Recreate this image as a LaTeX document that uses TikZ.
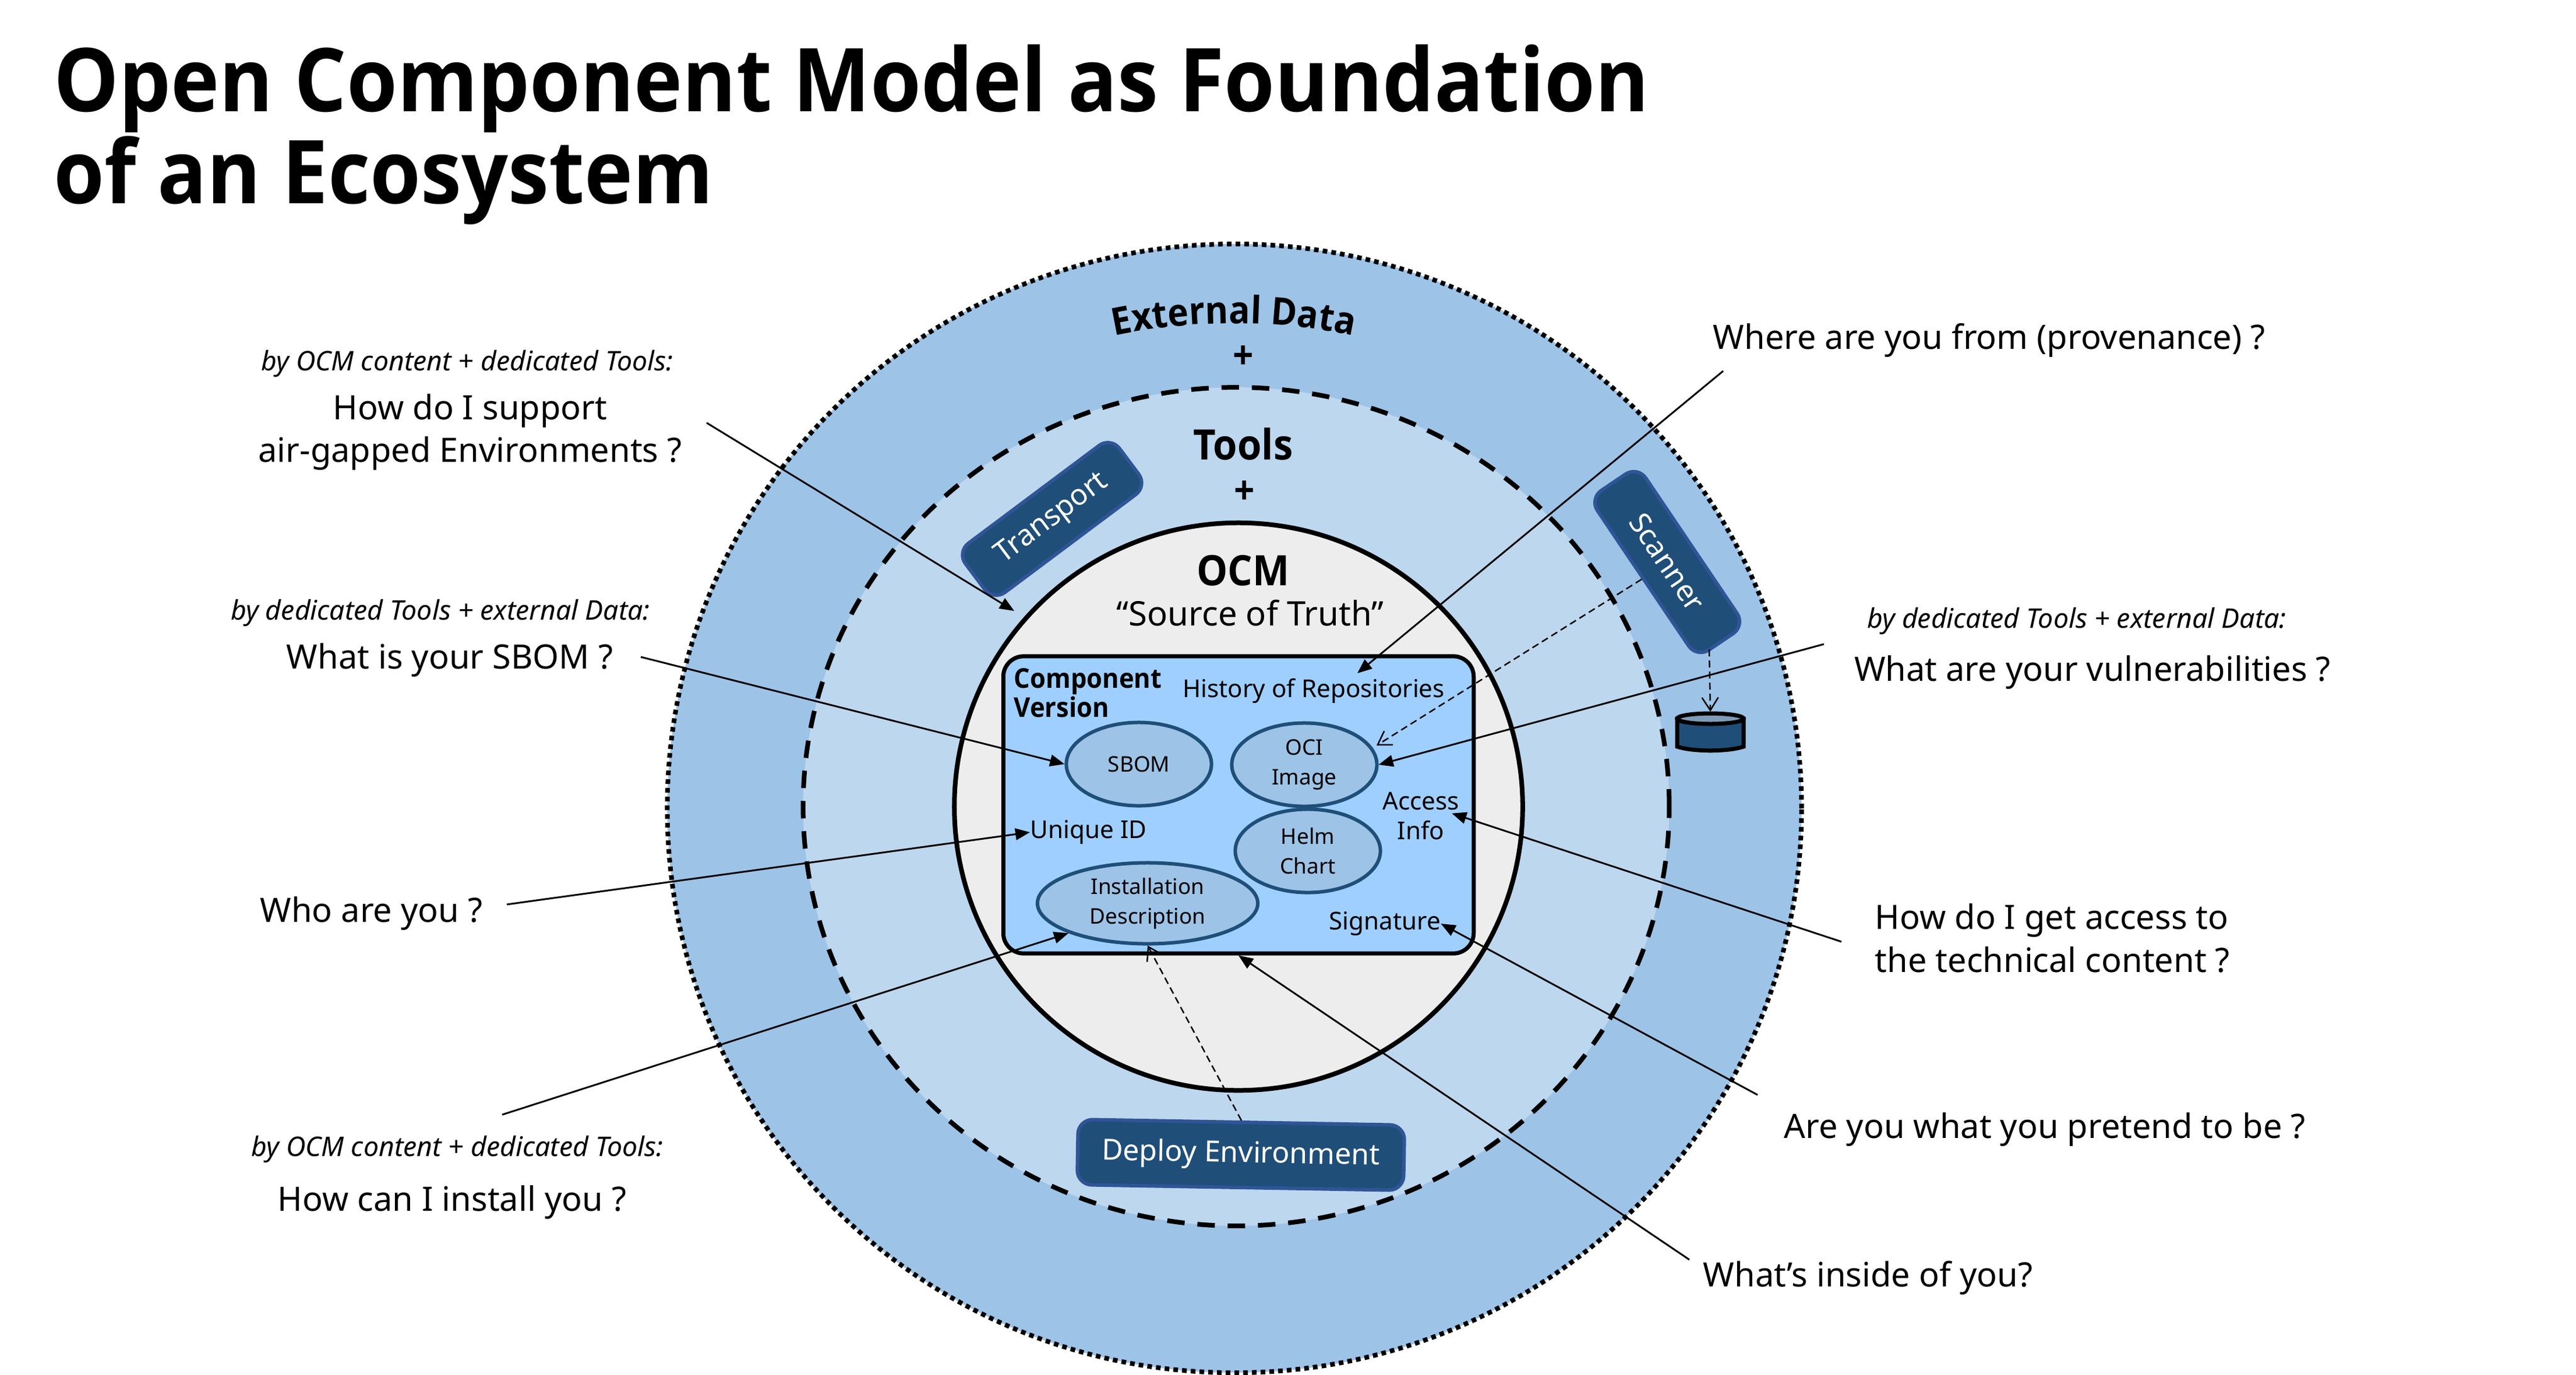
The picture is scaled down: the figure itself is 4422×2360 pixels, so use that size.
\documentclass[tikz,border=0pt]{standalone}
\usepackage{fontspec}
\setmainfont{Noto Sans}
\newfontfamily\heavyfont{Open Sans}[FakeStretch=.93]
\usetikzlibrary{arrows.meta}
\usetikzlibrary{decorations.text}
\usetikzlibrary{shapes.geometric}
\definecolor{ringouter}{HTML}{9DC3E6}
\definecolor{ringtools}{HTML}{BDD7EE}
\definecolor{ringcore}{HTML}{EDEDED}
\definecolor{boxfill}{HTML}{9FCFFF}
\definecolor{navy}{HTML}{1F4E79}
\definecolor{navyedge}{HTML}{2F5597}
\definecolor{navylight}{HTML}{7F9BB8}
\def\titlefont{\heavyfont\bfseries\fontsize{43}{44.8}\selectfont}
\def\ringfont{\heavyfont\bfseries\fontsize{18.5}{24}\selectfont}
\def\headfont{\heavyfont\bfseries\fontsize{20.5}{24}\selectfont}
\def\askfont{\fontsize{16.4}{20.8}\selectfont}
\def\notefont{\itshape\fontsize{13.2}{16}\selectfont}
\def\partfont{\fontsize{12}{14.5}\selectfont}
\tikzset{
    ring/.style = {
        ellipse, draw, inner sep=0pt
    },
    tooltag/.style = {
        draw=navyedge, fill=navy, text=white, line width=.06cm, rounded corners=.25cm, inner sep=0pt, font=\fontsize{14.2}{18}\selectfont
    },
    part/.style = {
        ellipse, draw=navy, fill=ringouter, line width=.06cm, inner sep=0pt, align=center, minimum width=2.49cm, minimum height=1.43cm, font=\fontsize{10.5}{14.5}\selectfont
    },
    ask/.style = {
        inner sep=0pt, align=center, font=\askfont
    },
    note/.style = {
        inner sep=0pt, font=\notefont
    },
    inbox/.style = {
        inner sep=0pt, align=center, font=\partfont
    },
    mark plus/.style = {
        inner sep=0pt, font=\heavyfont\bfseries\fontsize{19}{19}\selectfont
    },
    Store/.pic = {
        \draw[fill=navy, line width=.07cm] (-57,-24) -- (-57,24) .. controls (-30,33) and (30,33) .. (57,24) -- (57,-24) -- cycle;
        \draw[fill=navylight, line width=.07cm] (0,-24) ellipse [x radius=57, y radius=9];
        \coordinate (-top) at (0,-36);
    },
}
\begin{document}
\begin{tikzpicture}[x=.01cm, y=-.01cm]
        \useasboundingbox (0,0) rectangle (4422,2360);

        % Title
        \node (title) [anchor=north west, inner sep=0pt, align=left, font=\titlefont] at (92,76) {Open Component Model as Foundation\\of an Ecosystem};

        % Place the rings
        \node (outer) [ring, fill=ringouter, line width=.08cm, dash pattern=on .08cm off .07cm, minimum width=19.46cm, minimum height=19.37cm] at (2119,1388) {};
        \node (tools) [ring, fill=ringtools, line width=.08cm, dash pattern=on .3cm off .22cm, minimum width=14.86cm, minimum height=14.39cm] at (2122,1385) {};
        \node (ocm) [ring, fill=ringcore, line width=.08cm, minimum width=9.75cm, minimum height=9.74cm] at (2126,1385) {};

        % Ring headings
        \path[decorate, decoration={text along path, text align=center, text={|\ringfont|External Data}}] (1909,577) .. controls (2045,548) and (2190,548) .. (2327,577);
        \node (plusdata) [mark plus] at (2134,614) {+};
        \node (toolshead) [inner sep=0pt, font=\headfont] at (2134,762) {Tools};
        \node (plustools) [mark plus] at (2136,846) {+};
        \node (ocmhead) [inner sep=0pt, font=\headfont] at (2134,980) {OCM};
        \node (truth) [inner sep=0pt, font=\fontsize{16.5}{20}\selectfont] at (2146,1053) {“Source of Truth”};

        % Component version box
        \node (cv) [draw, fill=boxfill, line width=.07cm, rounded corners=.35cm, minimum width=8.07cm, minimum height=5.1cm, inner sep=0pt] at (2126,1382) {};
        \node (cvhead) [anchor=west, inner sep=0pt, align=left, font=\heavyfont\bfseries\fontsize{13.3}{11.8}\selectfont] at (1740,1190) {Component\\Version};
        \node (hist) [inbox] at (2255,1186) {History of Repositories};
        \node (uid) [inbox, anchor=west] at (1768,1429) {Unique ID};
        \node (access) [inbox] at (2439,1401) {Access\\Info};
        \node (sig) [inbox] at (2377,1586) {Signature};
        \foreach \nm/\cx/\cy/\lbl in {sbom/1955/1312/SBOM, oci/2239/1313/{OCI\\Image}, helm/2245/1461/{Helm\\Chart}}{
            \node (\nm) [part] at (\cx,\cy) {\lbl};
        }
        \node (install) [part, minimum width=3.78cm, minimum height=1.39cm] at (1970,1551) {Installation\\Description};

        % Tools
        \node (transport) [tooltag, rotate=36.8, minimum width=3.3cm, minimum height=1.05cm] at (1806,891) {Transport};
        \node (scanner) [tooltag, rotate=-56, minimum width=3.3cm, minimum height=1cm] at (2862,965) {Scanner};
        \node (deploy) [tooltag, rotate=-1, minimum width=5.6cm, minimum height=1.12cm] at (2130,1983) {Deploy Environment};
        \pic (db) at (2936,1258) {Store};

        % Questions
        \node (q1note) [note] at (802,624) {by OCM content + dedicated Tools:};
        \node (q1) [ask] at (807,742) {How do I support\\air-gapped Environments ?};
        \node (q2note) [note] at (756,1052) {by dedicated Tools + external Data:};
        \node (q2) [ask] at (772,1133) {What is your SBOM ?};
        \node (q3) [ask, anchor=west] at (446,1568) {Who are you ?};
        \node (q4note) [note] at (785,1973) {by OCM content + dedicated Tools:};
        \node (q4) [ask] at (776,2064) {How can I install you ?};
        \node (q5) [ask, anchor=west] at (2940,584) {Where are you from (provenance) ?};
        \node (q6note) [note] at (3565,1066) {by dedicated Tools + external Data:};
        \node (q6) [ask] at (3592,1154) {What are your vulnerabilities ?};
        \node (q7) [ask, anchor=west, align=left] at (3218,1611) {How do I get access to\\the technical content ?};
        \node (q8) [ask, anchor=west] at (3062,1939) {Are you what you pretend to be ?};
        \node (q9) [ask, anchor=west] at (2923,2194) {What’s inside of you?};

        % Free line ends
        \coordinate (gapfrom) at (1213,726);
        \coordinate (gapto) at (1741,1049);
        \coordinate (sbomfrom) at (1100,1128);
        \coordinate (uidfrom) at (870,1553);
        \coordinate (installfrom) at (862,1914);
        \coordinate (wherefrom) at (2958,637);
        \coordinate (whereto) at (2330,1156);
        \coordinate (vulnfrom) at (3131,1106);
        \coordinate (accessfrom) at (3161,1617);
        \coordinate (sigfrom) at (3017,1880);
        \coordinate (insidefrom) at (2900,2163);
        \coordinate (scanfoot) at (2934,1115);
        \coordinate (ocicorner) at (2363,1280);

        % Draw connections
        \begin{scope}[line width=.03cm, >={Triangle[width=.2cm,length=.25cm]}]
            \draw[->] (gapfrom) -- (gapto);
            \draw[->] (sbomfrom) -- (sbom.west);
            \draw[->] (uidfrom) -- (uid.west);
            \draw[->] (installfrom) -- (install.south west);
            \draw[->] (wherefrom) -- (whereto);
            \draw[->] (vulnfrom) -- (oci.east);
            \draw[->, shorten >=-.14cm] (accessfrom) -- (access.east);
            \draw[->] (sigfrom) -- (sig.east);
            \draw[->] (insidefrom) -- (cv.south);
        \end{scope}
        \begin{scope}[line width=.025cm, dash pattern=on .12cm off .07cm, >={Straight Barb[width=.28cm,length=.22cm]}]
            \draw[->] (scanner.south) -- (ocicorner);
            \draw[->] (scanfoot) -- (db-top);
            \draw[->] (deploy.north) -- (install.south);
        \end{scope}
    \end{tikzpicture}
\end{document}
